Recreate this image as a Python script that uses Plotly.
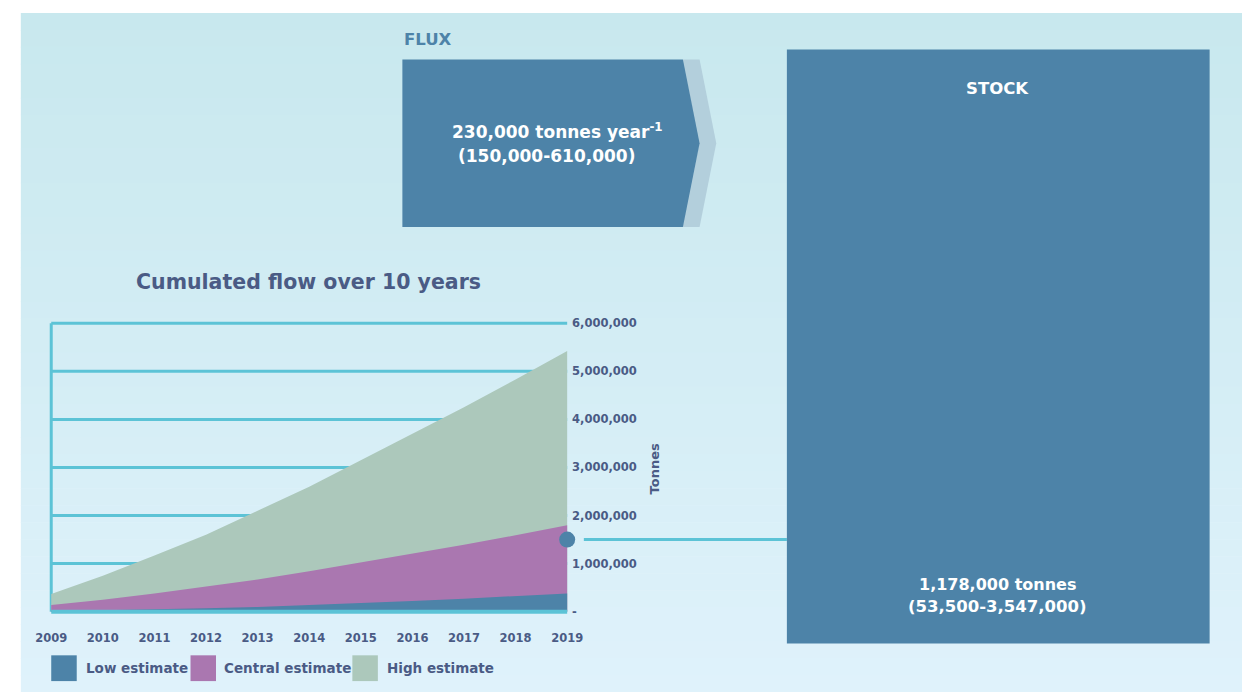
import plotly.graph_objects as go

# ---------------- data ----------------
years = list(range(2009, 2020))
low_estimate = [10000, 28000, 48000, 70000, 98000, 135000, 178000, 222000, 270000, 322000, 380000]
central_estimate = [140000, 250000, 380000, 520000, 670000, 840000, 1020000, 1200000, 1390000, 1590000, 1800000]
high_estimate = [370000, 750000, 1170000, 1600000, 2100000, 2600000, 3150000, 3700000, 4250000, 4830000, 5420000]
series_names = ["Low estimate", "Central estimate", "High estimate"]
series_colors = ["#4d83a8", "#aa77b0", "#acc8bb"]
y_tick_values = [0, 1000000, 2000000, 3000000, 4000000, 5000000, 6000000]
y_tick_labels = ["-", "1,000,000", "2,000,000", "3,000,000", "4,000,000", "5,000,000", "6,000,000"]
x_tick_labels = [str(y) for y in years]
stock_link_value = 1500000

title_text = "Cumulated flow over 10 years"
flux_label = "FLUX"
flux_line1 = "230,000 tonnes year<sup>-1</sup>"
flux_line2 = "(150,000-610,000)"
stock_label = "STOCK"
stock_line1 = "1,178,000 tonnes"
stock_line2 = "(53,500-3,547,000)"
y_title = "Tonnes"

# ---------------- geometry helpers (screen px -> paper) ----------------
W, H = 1254, 695
def px(sx):
    return sx / W
def py(sy):
    return 1 - sy / H

FONT = "DejaVu Sans"
TXT = "#4a5b85"
GRID = "#5cc3d6"
BOX = "#4d83a8"

# plot area in screen px (0 -> 614, 6M -> 323; 2009 -> 40, 2019 -> 566), padded 4px
PAD = 4
X_L, X_R, Y_B, Y_T = 40, 566, 614, 323
x_per_px = (years[-1] - years[0]) / (X_R - X_L)
y_per_px = (y_tick_values[-1] - y_tick_values[0]) / (Y_B - Y_T)
x_range = [years[0] - PAD * x_per_px, years[-1] + PAD * x_per_px]
y_range = [y_tick_values[0] - PAD * y_per_px, y_tick_values[-1] + PAD * y_per_px]

fig = go.Figure()

order = [2, 1, 0]
data_map = [low_estimate, central_estimate, high_estimate]
for i in order:
    fig.add_trace(go.Scatter(
        x=years, y=data_map[i], mode="lines", fill="tozeroy",
        line=dict(width=0, color=series_colors[i]), fillcolor=series_colors[i],
        name=series_names[i], showlegend=False, hoverinfo="x+y+name"))

# connector dot
fig.add_trace(go.Scatter(x=[years[-1]], y=[stock_link_value], mode="markers",
                         marker=dict(size=16, color=BOX, line=dict(width=0)),
                         cliponaxis=False, showlegend=False, hoverinfo="skip"))

shapes = []
top = (200, 232, 238)
bot = (223, 242, 251)
N = 40
y_start, y_end = 10, 695
for k in range(N):
    t = k / (N - 1)
    c = tuple(int(round(top[j] + (bot[j] - top[j]) * t)) for j in range(3))
    s0 = y_start + (y_end - y_start) * k / N
    s1 = y_start + (y_end - y_start) * (k + 1) / N + 0.6
    shapes.append(dict(type="rect", xref="paper", yref="paper", x0=px(9), x1=1,
                       y0=max(py(s1), 0), y1=py(s0), line=dict(width=0),
                       fillcolor="rgb(%d,%d,%d)" % c, layer="below"))

for v in y_tick_values[1:]:
    shapes.append(dict(type="line", xref="x", yref="y", x0=years[0], x1=years[-1], y0=v, y1=v,
                       line=dict(color=GRID, width=3), layer="below"))
shapes.append(dict(type="line", xref="x", yref="y", x0=years[0], x1=years[0],
                   y0=0, y1=y_tick_values[-1], line=dict(color=GRID, width=3), layer="below"))
shapes.append(dict(type="line", xref="x", yref="y", x0=years[0], x1=years[-1], y0=0, y1=0,
                   line=dict(color=GRID, width=4), layer="above"))

shapes.append(dict(type="line", xref="paper", yref="y", x0=px(583), x1=px(790),
                   y0=stock_link_value, y1=stock_link_value,
                   line=dict(color=GRID, width=3), layer="above"))

def path(points):
    return "M " + " L ".join("%.5f,%.5f" % (px(a), py(b)) for a, b in points) + " Z"
shapes.append(dict(type="path", xref="paper", yref="paper",
                   path=path([(684, 57), (701, 57), (718, 141.5), (701, 226), (684, 226)]),
                   fillcolor="#b3cfdc", line=dict(width=0), layer="above"))
shapes.append(dict(type="path", xref="paper", yref="paper",
                   path=path([(398, 57), (684, 57), (701, 141.5), (684, 226), (398, 226)]),
                   fillcolor=BOX, line=dict(width=0), layer="above"))
shapes.append(dict(type="rect", xref="paper", yref="paper", x0=px(790), x1=px(1221),
                   y0=py(646), y1=py(47), fillcolor=BOX, line=dict(width=0), layer="above"))

legend_x = [40, 182, 347]
legend_text_x = [73, 214, 380]
for i in range(3):
    shapes.append(dict(type="rect", xref="paper", yref="paper", x0=px(legend_x[i]), x1=px(legend_x[i] + 26),
                       y0=py(684), y1=py(658), fillcolor=series_colors[i], line=dict(width=0), layer="above"))

annotations = []
def ann(text, sx, sy, size, color=TXT, xanchor="center", angle=0):
    annotations.append(dict(text=text, x=px(sx), y=py(sy), xref="paper", yref="paper",
                            xanchor=xanchor, yanchor="middle", showarrow=False, textangle=angle,
                            font=dict(family=FONT, size=size, color=color, weight="bold")))

for i in range(3):
    ann(series_names[i], legend_text_x[i], 671, 13.5, xanchor="left")
ann(title_text, 302, 281, 20.5)
ann(y_title, 655, 470, 13, angle=-90)
ann(flux_label, 398, 37, 16.5, color=BOX, xanchor="left")
ann(flux_line1, 556, 129, 17, color="white")
ann(flux_line2, 545, 154, 17, color="white")
ann(stock_label, 1005, 86, 16.5, color="white")
ann(stock_line1, 1005, 587, 16, color="white")
ann(stock_line2, 1005, 609, 16.5, color="white")

fig.update_layout(
    width=W, height=H, margin=dict(l=0, r=0, t=0, b=0),
    paper_bgcolor="white", plot_bgcolor="rgba(0,0,0,0)",
    shapes=shapes, annotations=annotations, showlegend=False,
    xaxis=dict(domain=[px(X_L - PAD), px(X_R + PAD)], range=x_range, showgrid=False, zeroline=False,
               tickmode="array", tickvals=years, ticktext=x_tick_labels,
               ticks="outside", ticklen=12, tickcolor="rgba(0,0,0,0)",
               tickfont=dict(family=FONT, size=11.5, color=TXT, weight="bold"), fixedrange=True),
    yaxis=dict(domain=[py(Y_B + PAD), py(Y_T - PAD)], range=y_range, side="right",
               showgrid=False, zeroline=False, tickmode="array", tickvals=y_tick_values,
               ticktext=y_tick_labels, ticks="",
               tickfont=dict(family=FONT, size=11.5, color=TXT, weight="bold"), fixedrange=True),
)

fig.write_html("out.html", config={"displayModeBar": False},
               post_script="document.body.style.margin='0';document.body.style.overflow='hidden';")
